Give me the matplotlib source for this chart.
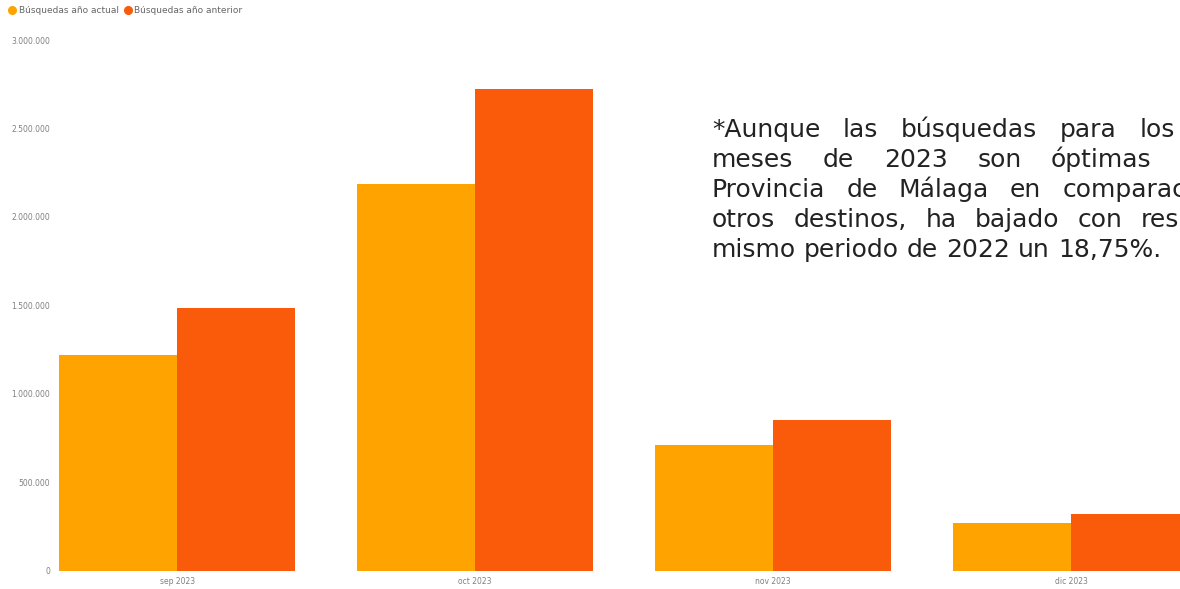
import matplotlib
matplotlib.use("Agg")
import matplotlib.pyplot as plt
from matplotlib.lines import Line2D
import numpy as np

months = ["sep 2023", "oct 2023", "nov 2023", "dic 2023"]
actual = [1219000, 2184000, 710000, 270000]
anterior = [1483000, 2723000, 851000, 320000]
series_names = ["Búsquedas año actual", "Búsquedas año anterior"]
yticks = [0, 500000, 1000000, 1500000, 2000000, 2500000, 3000000]

note_lines = [
    "*Aunque las búsquedas para los últimos",
    "meses de 2023 son óptimas para la",
    "Provincia de Málaga en comparación con",
    "otros destinos, ha bajado con respecto al",
    "mismo periodo de 2022 un 18,75%.",
]

c_actual = "#FFA300"
c_anterior = "#F95B0A"
W, H = 1180, 589

fig = plt.figure(figsize=(W / 100, H / 100), dpi=100)
ax = fig.add_axes([53 / W, 18.5 / H, (1220 - 53) / W, (549 - 18.5) / H])

x = np.arange(len(months))
bw = 0.396
ax.bar(x - bw / 2, actual, bw, color=c_actual, linewidth=0)
ax.bar(x + bw / 2, anterior, bw, color=c_anterior, linewidth=0)

ax.set_xlim(-0.417, 3.5)
ax.set_ylim(0, 3000000)
ax.set_yticks(yticks)
ax.set_yticklabels([f"{v:,.0f}".replace(",", ".") for v in yticks])
ax.set_xticks(x)
ax.set_xticklabels(months)
ax.tick_params(axis="y", length=0, pad=2.2, labelsize=5.5, labelcolor="#808080")
ax.tick_params(axis="x", length=0, pad=5, labelsize=5.5, labelcolor="#808080")
for s in ax.spines.values():
    s.set_visible(False)

handles = [Line2D([], [], marker="o", linestyle="none", markersize=5.5, color=c)
           for c in (c_actual, c_anterior)]
fig.legend(handles, series_names, loc="upper left", bbox_to_anchor=(0.002, 1.0),
           ncol=2, frameon=False, fontsize=6.5, labelcolor="#666666",
           handlelength=0.8, handletextpad=0.3, columnspacing=0.6, borderaxespad=0.3)

# justified note text, running past the right edge like in the original
renderer = fig.canvas.get_renderer()
x0, x1 = 712, 1290
for i, line in enumerate(note_lines):
    words = line.split()
    yb = 1 - (137 + 30 * i) / H
    texts = [fig.text(0, yb, w, fontsize=18, color="#222222", va="baseline",
                      family="DejaVu Sans") for w in words]
    widths = [t.get_window_extent(renderer).width for t in texts]
    if i < len(note_lines) - 1:
        gap = (x1 - x0 - sum(widths)) / (len(words) - 1)
    else:
        gap = fig.text(0, 0, " ", fontsize=18).get_window_extent(renderer).width
    pos = x0
    for t, w in zip(texts, widths):
        t.set_x(pos / W)
        pos += w + gap

fig.savefig("out.png", dpi=100)
